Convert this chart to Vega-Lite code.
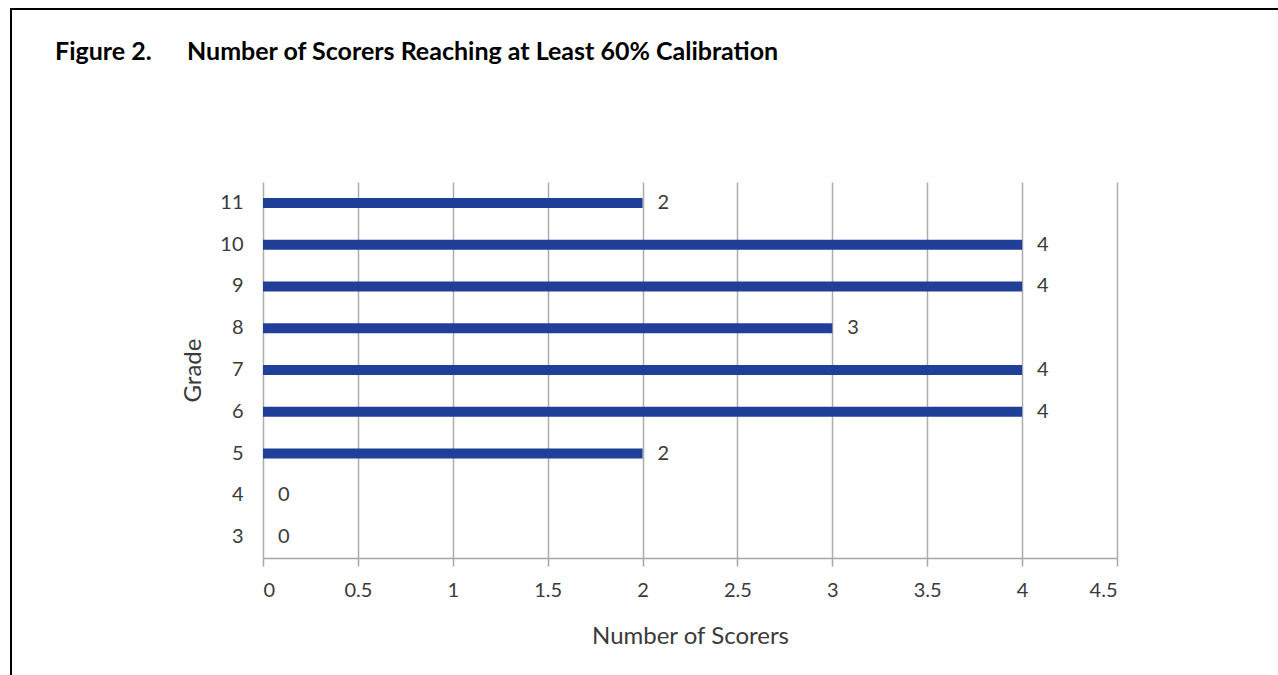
{
  "$schema": "https://vega.github.io/schema/vega-lite/v6.json",
  "width": 1267,
  "height": 666,
  "autosize": {"type": "none"},
  "padding": {"left": 11, "top": 9, "right": 0, "bottom": 0},
  "background": "white",
  "config": {
    "font": "Lato",
    "view": {"stroke": "black", "strokeWidth": 2, "strokeDash": [1267, 1933, 666], "fill": "white"}
  },
  "title": {
    "text": "Figure 2.\u2003\u2002\u2006Number of Scorers Reaching at Least 60% Calibration",
    "anchor": "start",
    "frame": "group",
    "font": "Lato",
    "fontSize": 25,
    "fontWeight": "bold",
    "color": "#000000",
    "baseline": "alphabetic",
    "offset": 0,
    "dx": 44,
    "dy": 76
  },
  "data": {
    "values": [
      {"grade": 3, "scorers": 0},
      {"grade": 4, "scorers": 0},
      {"grade": 5, "scorers": 2},
      {"grade": 6, "scorers": 4},
      {"grade": 7, "scorers": 4},
      {"grade": 8, "scorers": 3},
      {"grade": 9, "scorers": 4},
      {"grade": 10, "scorers": 4},
      {"grade": 11, "scorers": 2}
    ]
  },
  "encoding": {
    "y": {
      "field": "grade",
      "type": "ordinal",
      "sort": "descending",
      "scale": {"range": [173, 549], "paddingInner": 0.76, "paddingOuter": 0.38},
      "axis": {
        "orient": "left",
        "offset": -252,
        "domain": false,
        "ticks": false,
        "grid": false,
        "labelAngle": 0,
        "labelPadding": 20,
        "labelFontSize": 20,
        "labelColor": "#3a3a3a",
        "title": "Grade",
        "titleFontSize": 24,
        "titleFontWeight": "normal",
        "titleColor": "#3a3a3a",
        "titlePadding": 14
      }
    }
  },
  "layer": [
    {
      "mark": {"type": "bar", "color": "#1F3F98"},
      "encoding": {
        "x": {
          "field": "scorers",
          "type": "quantitative",
          "scale": {"domain": [0, 4.5], "range": [252, 1106], "nice": false, "zero": true},
          "axis": {
            "orient": "bottom",
            "offset": -117,
            "values": [0, 0.5, 1, 1.5, 2, 2.5, 3, 3.5, 4, 4.5],
            "format": "~g",
            "grid": false,
            "domainColor": "#a6a6a6",
            "domainWidth": 1.5,
            "ticks": true,
            "tickSize": 8,
            "tickColor": "#a6a6a6",
            "tickWidth": 1.5,
            "labelFontSize": 20,
            "labelColor": "#3a3a3a",
            "labelPadding": 14,
            "title": "Number of Scorers",
            "titleFontSize": 24,
            "titleFontWeight": "normal",
            "titleColor": "#3a3a3a",
            "titlePadding": 24
          }
        }
      }
    },
    {
      "mark": {"type": "text", "align": "left", "baseline": "middle", "dx": 15, "fontSize": 20, "color": "#3a3a3a"},
      "encoding": {
        "x": {
          "field": "scorers",
          "type": "quantitative",
          "axis": {
            "orient": "top",
            "offset": -173,
            "values": [0, 0.5, 1, 1.5, 2, 2.5, 3, 3.5, 4, 4.5],
            "grid": false,
            "domain": false,
            "labels": false,
            "ticks": true,
            "tickSize": -376,
            "tickColor": "#adadad",
            "tickWidth": 1.5,
            "title": null
          }
        },
        "text": {"field": "scorers", "type": "quantitative"}
      }
    }
  ],
  "resolve": {"axis": {"x": "independent"}}
}
